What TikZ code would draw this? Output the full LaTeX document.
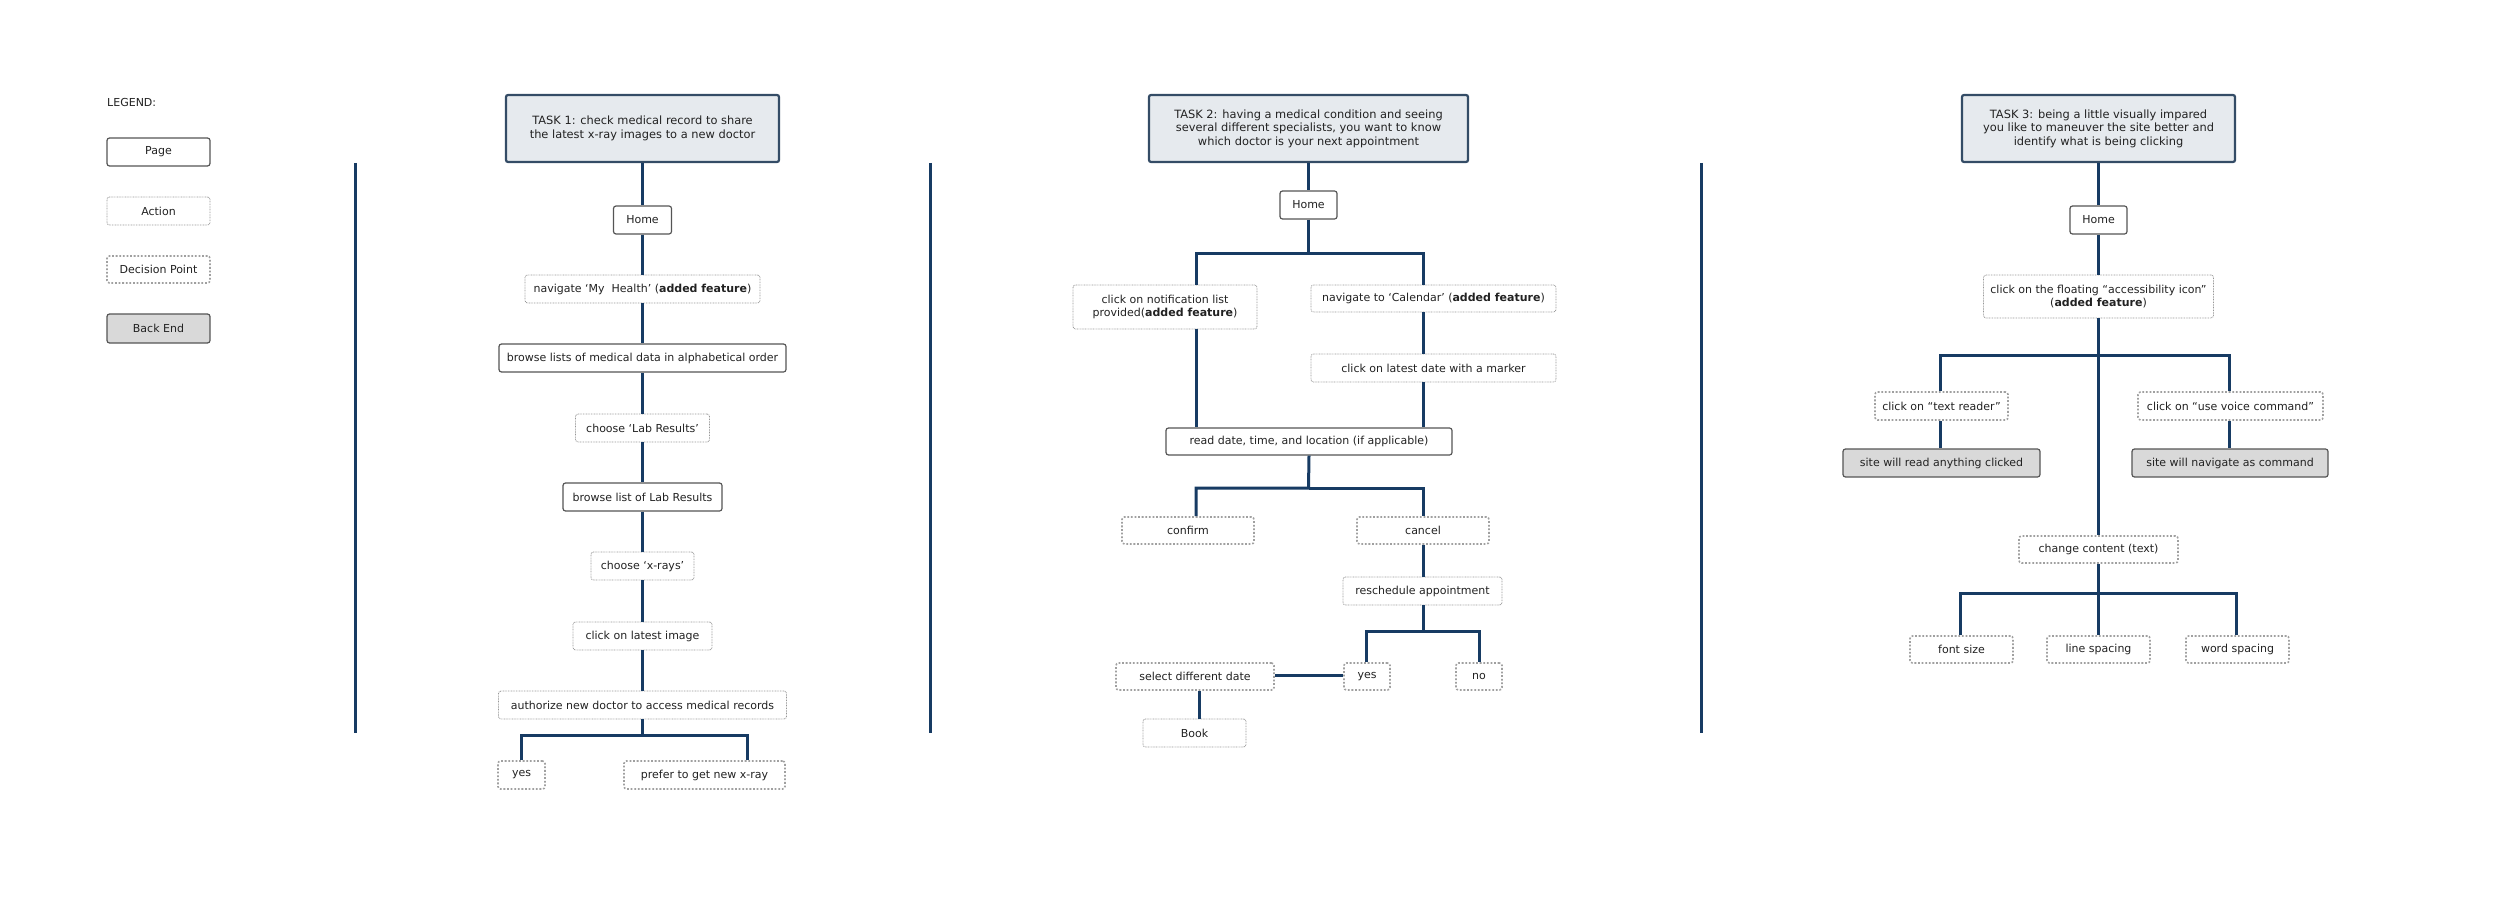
\documentclass[tikz,border=0pt]{standalone}
\usepackage{fontspec}
\setmainfont{DejaVu Sans}
\usetikzlibrary{calc}
\definecolor{navy}{RGB}{23,59,99}
\definecolor{titlefill}{RGB}{230,234,238}
\definecolor{titleborder}{RGB}{52,76,102}
\definecolor{txt}{RGB}{34,34,34}
\definecolor{pageborder}{RGB}{85,85,85}
\definecolor{actborder}{RGB}{150,150,150}
\definecolor{decborder}{RGB}{160,160,160}
\definecolor{backfill}{RGB}{217,217,217}
\begin{document}
\begin{tikzpicture}[x=1pt,y=-1pt,
  every node/.style={font=\fontsize{11}{13.5}\selectfont, text=txt, inner sep=0pt, align=center},
  pagebox/.style={draw=pageborder, line width=1.2pt, rounded corners=2.5pt, fill=white},
  actbox/.style={draw=actborder, line width=0.8pt, dash pattern=on 0.8pt off 0.8pt, rounded corners=2.5pt, fill=white},
  decbox/.style={draw=decborder, line width=1.6pt, dash pattern=on 1.8pt off 1.8pt, rounded corners=2.5pt, fill=white},
  backbox/.style={draw=pageborder, line width=1.2pt, rounded corners=2.5pt, fill=backfill},
  titlebox/.style={draw=titleborder, line width=2.2pt, rounded corners=2pt, fill=titlefill, font=\fontsize{11.4}{13.4}\selectfont},
  conn/.style={draw=navy, line width=3pt},
  sep/.style={draw=navy, line width=3pt},
  sz/.style 2 args={minimum width=#1pt, minimum height=#2pt}
]
\useasboundingbox (0,0) rectangle (2500,904);

% ---------- Legend ----------
\node[anchor=west] (legend) at (107,102) {LEGEND:};
\node[pagebox, sz={103}{28}] (lpage) at (158.5,152) {Page};
\node[actbox, sz={103}{28}] (laction) at (158.5,211) {Action};
\node[decbox, sz={103}{27}] (ldec) at (158.5,269.5) {Decision Point};
\node[backbox, sz={103}{29}] (lback) at (158.5,328.5) {Back End};

% ---------- Separators ----------
\coordinate (s1a) at (355,163); \coordinate (s1b) at (355,733);
\coordinate (s2a) at (930,163); \coordinate (s2b) at (930,733);
\coordinate (s3a) at (1701,163); \coordinate (s3b) at (1701,733);
\draw[sep] (s1a) -- (s1b);
\draw[sep] (s2a) -- (s2b);
\draw[sep] (s3a) -- (s3b);

% ---------- Task 1 ----------
\node[titlebox, sz={273}{67}] (t1) at (642.5,128.5) {TASK 1: check medical record to share\\the latest x-ray images to a new doctor};
\node[pagebox, sz={58}{28}] (h1) at (642.5,220) {Home};
\node[actbox, sz={235}{28}] (n1) at (642.5,289) {navigate ‘My\ \ Health’ (\textbf{added feature})};
\node[pagebox, sz={287}{28}] (b1) at (642.5,358) {browse lists of medical data in alphabetical order};
\node[actbox, sz={134}{28}] (c1) at (642.5,428) {choose ‘Lab Results’};
\node[pagebox, sz={159}{28}] (b2) at (642.5,497) {browse list of Lab Results};
\node[actbox, sz={103}{28}] (c2) at (642.5,566) {choose ‘x-rays’};
\node[actbox, sz={139}{28}] (c3) at (642.5,636) {click on latest image};
\node[actbox, sz={288}{28}] (a1) at (642.5,705) {authorize new doctor to access medical records};
\node[decbox, sz={47}{28}] (y1) at (521.5,775) {yes};
\node[decbox, sz={161}{28}] (p1) at (704.5,775) {prefer to get new x-ray};

\coordinate (j1) at (642.5,735);
\begin{scope}[on background layer/.try]
\end{scope}
\draw[conn] (t1) -- (h1);
\draw[conn] (h1) -- (n1);
\draw[conn] (n1) -- (b1);
\draw[conn] (b1) -- (c1);
\draw[conn] (c1) -- (b2);
\draw[conn] (b2) -- (c2);
\draw[conn] (c2) -- (c3);
\draw[conn] (c3) -- (a1);
\draw[conn] (a1) -- (j1) -| (y1.north);
\draw[conn] (j1) -| ([xshift=42.5pt]p1.north);

% ---------- Task 2 ----------
\node[titlebox, sz={319}{67}] (t2) at (1308.5,128.5) {TASK 2: having a medical condition and seeing\\several different specialists, you want to know\\which doctor is your next appointment};
\node[pagebox, sz={57}{28}] (h2) at (1308.5,205) {Home};
\node[actbox, sz={184}{44}] (nt) at (1165,307) {click on notification list\\provided(\textbf{added feature})};
\node[actbox, sz={245}{27}] (nc) at (1433.5,298.5) {navigate to ‘Calendar’ (\textbf{added feature})};
\node[actbox, sz={245}{28}] (cl) at (1433.5,368) {click on latest date with a marker};
\node[pagebox, sz={286}{27}] (rd) at (1309,441.5) {read date, time, and location (if applicable)};
\node[decbox, sz={132}{27}] (cf) at (1188,530.5) {confirm};
\node[decbox, sz={132}{27}] (cn) at (1423,530.5) {cancel};
\node[actbox, sz={159}{28}] (rs) at (1422.5,591) {reschedule appointment};
\node[decbox, sz={46}{27}] (ys) at (1367,676.5) {yes};
\node[decbox, sz={46}{27}] (no) at (1479,676.5) {no};
\node[decbox, sz={158}{27}] (sd) at (1195,676.5) {select different date};
\node[actbox, sz={103}{28}] (bk) at (1194.5,733) {Book};

\coordinate (j2a) at (1308.5,253);
\coordinate (j2b) at (1308.5,488);
\coordinate (j2c) at (1423,631);
\draw[conn] (t2) -- (h2);
\draw[conn] (h2) -- (j2a) -| ([xshift=31pt]nt.north);
\draw[conn] (j2a) -| ([xshift=-10.5pt]nc.north);
\draw[conn] ([xshift=-10.5pt]nc.south) -- ([xshift=-10.5pt]cl.north);
\draw[conn] ([xshift=31pt]nt.south) -- (nt.south -| 1196,0) -- ($(rd.north -| 1196,0)$);
\draw[conn] ([xshift=-10.5pt]cl.south) -- (rd.north -| 1423,0);
\draw[conn] (rd.south) -- (j2b) -| ([xshift=8pt]cf.north);
\draw[conn] (j2b) -| (cn.north);
\draw[conn] (cn) -- (rs.north -| cn.south);
\draw[conn] (rs.south -| cn.south) -- (j2c) -| ([xshift=-1pt]ys.north);
\draw[conn] (j2c) -| (no.north);
\draw[conn] ([yshift=1.5pt]ys.west) -- ([yshift=1.5pt]sd.east);
\draw[conn] ([xshift=4pt]sd.south) -- ([xshift=4.5pt]bk.north);

% ---------- Task 3 ----------
\node[titlebox, sz={273}{67}] (t3) at (2098.5,128.5) {TASK 3: being a little visually impared\\you like to maneuver the site better and\\identify what is being clicking};
\node[pagebox, sz={57}{28}] (h3) at (2098.5,220) {Home};
\node[actbox, sz={230}{43}] (ac) at (2098.5,296.5) {click on the floating “accessibility icon”\\(\textbf{added feature})};
\node[decbox, sz={133}{28}] (tr) at (1941.5,406) {click on “text reader”};
\node[decbox, sz={185}{28}] (vc) at (2230.5,406) {click on “use voice command”};
\node[backbox, sz={197}{28}] (sr) at (1941.5,463) {site will read anything clicked};
\node[backbox, sz={196}{28}] (sn) at (2230,463) {site will navigate as command};
\node[decbox, sz={159}{27}] (cc) at (2098.5,549.5) {change content (text)};
\node[decbox, sz={103}{27}] (fs) at (1961.5,649.5) {font size};
\node[decbox, sz={103}{27}] (ls) at (2098.5,649.5) {line spacing};
\node[decbox, sz={103}{27}] (ws) at (2237.5,649.5) {word spacing};

\coordinate (j3a) at (2098.5,355);
\coordinate (j3b) at (2098.5,593);
\draw[conn] (t3) -- (h3);
\draw[conn] (h3) -- (ac);
\draw[conn] (ac) -- (j3a) -| ([xshift=-1.5pt]tr.north);
\draw[conn] (j3a) -| ([xshift=-1.5pt]vc.north);
\draw[conn] (j3a) -- (cc);
\draw[conn] ([xshift=-1.5pt]tr.south) -- ([xshift=-1.5pt]sr.north);
\draw[conn] ([xshift=-1.5pt]vc.south) -- ([xshift=-1pt]sn.north);
\draw[conn] (cc) -- (j3b) -| ([xshift=-1.5pt]fs.north);
\draw[conn] (j3b) -- (ls);
\draw[conn] (j3b) -| ([xshift=-1.5pt]ws.north);
\end{tikzpicture}
\end{document}
